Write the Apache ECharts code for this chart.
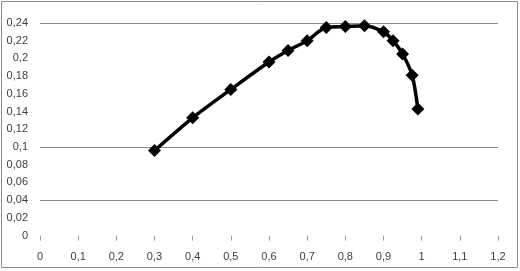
<!DOCTYPE html>
<html>
<head>
<meta charset="utf-8">
<script src="https://cdn.jsdelivr.net/npm/echarts@6/dist/echarts.min.js"></script>
<style>html,body{margin:0;padding:0;background:#fff}#c{width:520px;height:271px}</style>
</head>
<body>
<div id="c"></div>
<script>
var xValues = [0.3, 0.4, 0.5, 0.6, 0.65, 0.7, 0.75, 0.8, 0.85, 0.9, 0.925, 0.95, 0.975, 0.99];
var yValues = [0.096, 0.133, 0.165, 0.196, 0.209, 0.220, 0.235, 0.236, 0.237, 0.230, 0.220, 0.205, 0.181, 0.143];
var gridValues = [0.24, 0.1, 0.04];

function fmt(v) {
  var s = (Math.round(v * 100) / 100).toFixed(2).replace(/0+$/, '').replace(/\.$/, '');
  return s.replace('.', ',');
}

var points = xValues.map(function (x, i) { return [x, yValues[i]]; });

var chart = echarts.init(document.getElementById('c'));
chart.setOption({
  animation: false,
  backgroundColor: '#fff',
  grid: { left: 40, right: 22, top: 23, bottom: 35.4, containLabel: false },
  xAxis: {
    type: 'value', min: 0, max: 1.2, interval: 0.1,
    axisLine: { show: false },
    axisTick: { show: true, length: 5, lineStyle: { color: '#9a9a9a' } },
    splitLine: { show: false },
    axisLabel: { formatter: fmt, margin: 16, fontSize: 11, color: '#404040', fontFamily: 'Liberation Sans' }
  },
  yAxis: {
    type: 'value', min: 0, max: 0.24, interval: 0.02,
    axisLine: { show: false },
    axisTick: { show: false },
    splitLine: { show: false },
    axisLabel: { formatter: fmt, margin: 12, fontSize: 11, color: '#404040', fontFamily: 'Liberation Sans' }
  },
  graphic: [{
    type: 'rect', silent: true, z: -1,
    shape: { x: 1.5, y: 1.5, width: 516, height: 266 },
    style: { fill: 'none', stroke: '#8a8a8a', lineWidth: 1 }
  }],
  series: [{
    type: 'line',
    data: points,
    smooth: 0.3,
    symbol: 'diamond',
    symbolSize: 13,
    lineStyle: { color: '#000', width: 3.5 },
    itemStyle: { color: '#000' },
    z: 3,
    markLine: {
      silent: true,
      symbol: ['none', 'none'],
      label: { show: false },
      lineStyle: { color: '#8a8a8a', type: 'solid', width: 1 },
      data: gridValues.map(function (v) { return { yAxis: v }; }),
      z: 1
    }
  }]
});
</script>
</body>
</html>
